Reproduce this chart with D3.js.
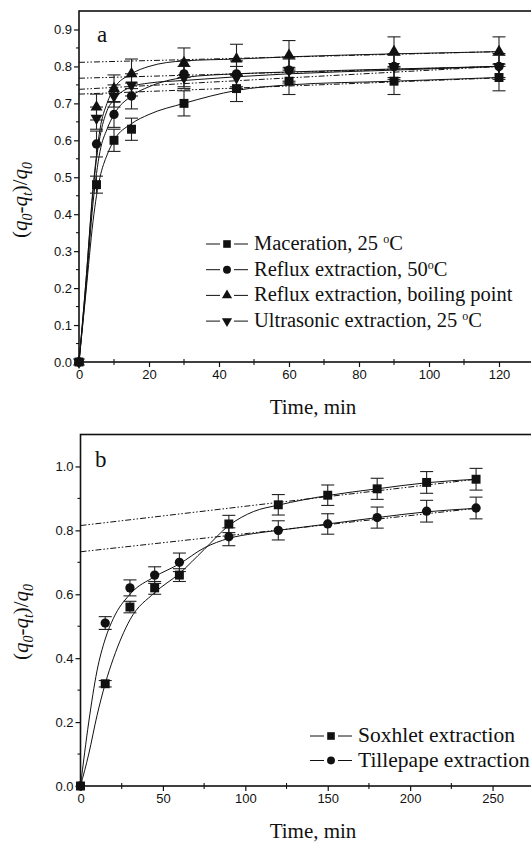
<!DOCTYPE html>
<html>
<head>
<meta charset="utf-8">
<script src="https://cdn.jsdelivr.net/npm/d3@7"></script>
<style>
  body { margin: 0; background: #fff; }
  svg { display: block; }
</style>
</head>
<body>
<svg id="chart" width="531" height="843"></svg>
<script>
// panel a - extraction kinetics, four methods
var timeA = [0, 5, 10, 15, 30, 45, 60, 90, 120];
var maceration = [0, 0.48, 0.60, 0.63, 0.70, 0.74, 0.76, 0.76, 0.77];
var macerationErr = [0, 0.023, 0.03, 0.03, 0.034, 0.035, 0.036, 0.036, 0.036];
var reflux50 = [0, 0.59, 0.67, 0.72, 0.78, 0.78, 0.79, 0.80, 0.80];
var reflux50Err = [0, 0.035, 0.035, 0.035, 0.035, 0.035, 0.035, 0.035, 0.035];
var refluxBoil = [0, 0.69, 0.74, 0.78, 0.81, 0.82, 0.83, 0.84, 0.84];
var refluxBoilErr = [0, 0.035, 0.037, 0.04, 0.04, 0.04, 0.04, 0.04, 0.04];
var ultrasonic = [0, 0.66, 0.72, 0.75, 0.77, 0.77, 0.79, 0.80, 0.80];
var ultrasonicErr = [0, 0.03, 0.03, 0.03, 0.03, 0.03, 0.03, 0.03, 0.03];

// fitted curves
var fitTimeA = [0, 2, 4, 5, 6, 8, 10, 15, 20, 30, 45, 60, 90, 120];
var fitMaceration = [0, 0.19, 0.38, 0.45, 0.50, 0.56, 0.60, 0.645, 0.67, 0.70, 0.735, 0.75, 0.76, 0.77];
var fitReflux50 = [0, 0.20, 0.43, 0.51, 0.57, 0.63, 0.67, 0.72, 0.745, 0.77, 0.78, 0.785, 0.793, 0.80];
var fitRefluxBoil = [0, 0.22, 0.47, 0.56, 0.63, 0.70, 0.74, 0.78, 0.80, 0.815, 0.82, 0.826, 0.834, 0.84];
var fitUltrasonic = [0, 0.22, 0.46, 0.55, 0.61, 0.68, 0.71, 0.745, 0.755, 0.762, 0.772, 0.78, 0.79, 0.80];

// dash-dot asymptote lines: value at t=0 and at t end
var lineEndsA = [0, 120];
var lineStartA = [0.725, 0.768, 0.811, 0.738];
var lineStopA = [0.769, 0.80, 0.84, 0.80];

var legendA = ["Maceration, 25 |C", "Reflux extraction, 50|C", "Reflux extraction, boiling point", "Ultrasonic extraction, 25 |C"];

// panel b - soxhlet vs tillepape
var timeB = [0, 15, 30, 45, 60, 90, 120, 150, 180, 210, 240];
var soxhlet = [0, 0.32, 0.56, 0.62, 0.66, 0.82, 0.88, 0.91, 0.93, 0.95, 0.96];
var soxhletErr = [0, 0.01, 0.018, 0.02, 0.02, 0.027, 0.032, 0.032, 0.033, 0.034, 0.034];
var tillepape = [0, 0.51, 0.62, 0.66, 0.70, 0.78, 0.80, 0.82, 0.84, 0.86, 0.87];
var tillepapeErr = [0, 0.02, 0.025, 0.026, 0.029, 0.028, 0.03, 0.032, 0.033, 0.034, 0.034];

var fitTimeB = [0, 5, 10, 15, 20, 30, 45, 60, 75, 90, 105, 120, 150, 180, 210, 240];
var fitSoxhlet = [0, 0.1, 0.22, 0.32, 0.40, 0.52, 0.605, 0.665, 0.74, 0.815, 0.859, 0.879, 0.909, 0.93, 0.949, 0.96];
var fitTillepape = [0, 0.2, 0.36, 0.46, 0.525, 0.6, 0.655, 0.695, 0.745, 0.775, 0.79, 0.80, 0.82, 0.84, 0.858, 0.869];

var lineEndsB = [0, 240];
var lineStartB = [0.815, 0.733];
var lineStopB = [0.96, 0.869];

var legendB = ["Soxhlet extraction", "Tillepape extraction"];

var ticksYA = [0, 0.1, 0.2, 0.3, 0.4, 0.5, 0.6, 0.7, 0.8, 0.9];
var ticksXA = [0, 20, 40, 60, 80, 100, 120];
var ticksYB = [0, 0.2, 0.4, 0.6, 0.8, 1.0];
var ticksXB = [0, 50, 100, 150, 200, 250];

var svg = d3.select("#chart");
var ink = "#111";
var serif = "'Liberation Serif', 'Times New Roman', serif";
var sans = "'Liberation Sans', Arial, sans-serif";

var squareSym = d3.symbol().type(d3.symbolSquare).size(80);
var circleSym = d3.symbol().type(d3.symbolCircle).size(68);
var triSym = d3.symbol().type(d3.symbolTriangle).size(62);

function marker(g, shape, x, y, scale) {
  var s = scale || 1;
  var p;
  if (shape == "square") p = squareSym();
  else if (shape == "circle") p = circleSym();
  else p = triSym();
  var rot = shape == "down" ? " rotate(180)" : "";
  g.append("path")
    .attr("d", p)
    .attr("transform", "translate(" + x + "," + y + ")" + rot + " scale(" + s + ")")
    .attr("fill", ink);
}

function writeLabel(t, str) {
  // '|' marks the superscript o of the degree sign
  var parts = str.split("|");
  t.append("tspan").text(parts[0]);
  if (parts.length > 1) {
    t.append("tspan").attr("dy", -7).attr("font-size", 12).text("o");
    t.append("tspan").attr("dy", 7).text(parts[1]);
  }
}

function yTitle(g, x, y) {
  var t = g.append("text")
    .attr("transform", "translate(" + x + "," + y + ") rotate(-90)")
    .attr("text-anchor", "middle")
    .attr("font-family", serif)
    .attr("font-size", 21)
    .attr("fill", ink);
  t.append("tspan").text("(");
  t.append("tspan").attr("font-style", "italic").text("q");
  t.append("tspan").attr("font-style", "italic").attr("font-size", 14).attr("dy", 5).text("0");
  t.append("tspan").attr("dy", -5).text("-");
  t.append("tspan").attr("font-style", "italic").text("q");
  t.append("tspan").attr("font-style", "italic").attr("font-size", 14).attr("dy", 5).text("t");
  t.append("tspan").attr("dy", -5).text(")/");
  t.append("tspan").attr("font-style", "italic").text("q");
  t.append("tspan").attr("font-style", "italic").attr("font-size", 14).attr("dy", 5).text("0");
}

var drawPanel = function(p) {
  var g = svg.append("g");
  var x = d3.scaleLinear().domain(p.xDomain).range(p.xRange);
  var y = d3.scaleLinear().domain(p.yDomain).range(p.yRange);

  // axes
  var xAxis = d3.axisBottom(x).tickValues(p.xTicks).tickSize(5).tickPadding(3)
                .tickFormat(d3.format("d"));
  var gx = g.append("g").attr("transform", "translate(0," + p.yRange[0] + ")").call(xAxis);
  var yAxis = d3.axisLeft(y).tickValues(p.yTicks).tickSize(5).tickPadding(2)
                .tickFormat(d3.format(".1f"));
  var gy = g.append("g").attr("transform", "translate(" + p.xRange[0] + ",0)").call(yAxis);
  [gx, gy].forEach(function(a) {
    a.select(".domain").remove();
    a.selectAll("line").attr("stroke", ink).attr("stroke-width", 1.2);
    a.selectAll("text").attr("font-family", sans)
      .attr("font-size", 13).attr("fill", ink);
  });

  // minor ticks
  g.append("g").selectAll("line").data(p.xMinor).enter().append("line")
    .attr("x1", function(d) { return x(d); }).attr("x2", function(d) { return x(d); })
    .attr("y1", p.yRange[0] - 3).attr("y2", p.yRange[0] + 3)
    .attr("stroke", ink).attr("stroke-width", 1.1);
  g.append("g").selectAll("line").data(p.yMinor).enter().append("line")
    .attr("y1", function(d) { return y(d); }).attr("y2", function(d) { return y(d); })
    .attr("x1", p.xRange[0] - 3).attr("x2", p.xRange[0])
    .attr("stroke", ink).attr("stroke-width", 1.1);

  // frame
  g.append("rect")
    .attr("x", p.xRange[0]).attr("y", p.yRange[1])
    .attr("width", p.xRange[1] - p.xRange[0]).attr("height", p.yRange[0] - p.yRange[1])
    .attr("fill", "none").attr("stroke", ink).attr("stroke-width", 1.6);

  // dash-dot asymptotes
  p.lineStart.forEach(function(v0, i) {
    g.append("line")
      .attr("x1", x(p.lineEnds[0])).attr("y1", y(v0))
      .attr("x2", x(p.lineEnds[1])).attr("y2", y(p.lineStop[i]))
      .attr("stroke", ink).attr("stroke-width", 1)
      .attr("stroke-dasharray", "6,2,1.5,2,1.5,2");
  });

  // fitted curves
  var line = d3.line()
    .x(function(d) { return x(d[0]); })
    .y(function(d) { return y(d[1]); })
    .curve(d3.curveMonotoneX);
  p.series.forEach(function(s) {
    g.append("path")
      .datum(d3.zip(p.fitTime, s.fit))
      .attr("d", line)
      .attr("fill", "none").attr("stroke", ink).attr("stroke-width", 1);
  });

  // error bars + markers
  p.series.forEach(function(s) {
    p.time.forEach(function(t, i) {
      var e = s.err[i];
      if (e > 0) {
        var cx = x(t);
        g.append("line").attr("x1", cx).attr("x2", cx)
          .attr("y1", y(s.values[i] - e)).attr("y2", y(s.values[i] + e))
          .attr("stroke", "#222").attr("stroke-width", 1.1);
        [s.values[i] - e, s.values[i] + e].forEach(function(v) {
          g.append("line").attr("x1", cx - 6.5).attr("x2", cx + 6.5)
            .attr("y1", y(v)).attr("y2", y(v))
            .attr("stroke", "#222").attr("stroke-width", 1.1);
        });
      }
    });
  });
  p.series.forEach(function(s) {
    p.time.forEach(function(t, i) {
      marker(g, s.shape, x(t), y(s.values[i]));
    });
  });

  // panel letter
  g.append("text").attr("x", p.letterPos[0]).attr("y", p.letterPos[1])
    .attr("font-family", serif)
    .attr("font-size", 23).attr("fill", ink).text(p.letter);

  // legend
  p.series.forEach(function(s, i) {
    var ly = p.legendPos[1] + i * p.legendStep;
    var lx = p.legendPos[0];
    g.append("line").attr("x1", lx).attr("x2", lx + 14).attr("y1", ly).attr("y2", ly)
      .attr("stroke", ink).attr("stroke-width", 1);
    g.append("line").attr("x1", lx + 28).attr("x2", lx + 42).attr("y1", ly).attr("y2", ly)
      .attr("stroke", ink).attr("stroke-width", 1);
    marker(g, s.shape, lx + 21, ly, 0.85);
    var t = g.append("text").attr("x", lx + 48).attr("y", ly + 6)
      .attr("font-family", serif)
      .attr("font-size", p.legendSize).attr("fill", ink);
    writeLabel(t, s.label);
  });

  // titles
  g.append("text").attr("x", p.xTitlePos[0]).attr("y", p.xTitlePos[1])
    .attr("text-anchor", "middle")
    .attr("font-family", serif)
    .attr("font-size", 21).attr("fill", ink).text("Time, min");
  yTitle(g, p.yTitlePos[0], p.yTitlePos[1]);
};

drawPanel({
  xDomain: [0, 130], xRange: [79, 534],
  yDomain: [0, 0.95], yRange: [362, 11],
  xTicks: ticksXA, yTicks: ticksYA,
  xMinor: [10, 30, 50, 70, 90, 110],
  yMinor: [0.05, 0.15, 0.25, 0.35, 0.45, 0.55, 0.65, 0.75, 0.85],
  time: timeA, fitTime: fitTimeA,
  lineEnds: lineEndsA, lineStart: lineStartA, lineStop: lineStopA,
  series: [
    {values: maceration, err: macerationErr, fit: fitMaceration, shape: "square", label: legendA[0]},
    {values: reflux50, err: reflux50Err, fit: fitReflux50, shape: "circle", label: legendA[1]},
    {values: refluxBoil, err: refluxBoilErr, fit: fitRefluxBoil, shape: "triangle", label: legendA[2]},
    {values: ultrasonic, err: ultrasonicErr, fit: fitUltrasonic, shape: "down", label: legendA[3]}
  ],
  letter: "a", letterPos: [97, 42],
  legendPos: [206, 244], legendStep: 25.7, legendSize: 20.5,
  xTitlePos: [313, 414], yTitlePos: [27, 200]
});

drawPanel({
  xDomain: [0, 280], xRange: [80.5, 542],
  yDomain: [0, 1.1], yRange: [786, 434.5],
  xTicks: ticksXB, yTicks: ticksYB,
  xMinor: [25, 75, 125, 175, 225, 275],
  yMinor: [0.1, 0.3, 0.5, 0.7, 0.9],
  time: timeB, fitTime: fitTimeB,
  lineEnds: lineEndsB, lineStart: lineStartB, lineStop: lineStopB,
  series: [
    {values: soxhlet, err: soxhletErr, fit: fitSoxhlet, shape: "square", label: legendB[0]},
    {values: tillepape, err: tillepapeErr, fit: fitTillepape, shape: "circle", label: legendB[1]}
  ],
  letter: "b", letterPos: [95, 467],
  legendPos: [310, 736], legendStep: 24.5, legendSize: 21.5,
  xTitlePos: [313, 838], yTitlePos: [28, 622]
});
</script>
</body>
</html>
